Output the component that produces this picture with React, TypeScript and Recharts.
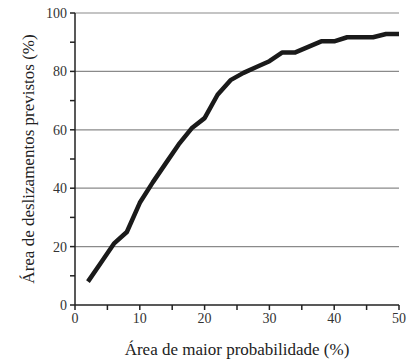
import { LineChart, Line, XAxis, YAxis, CartesianGrid } from 'recharts';

const areaMaior = [2, 4, 6, 8, 10, 12, 14, 16, 18, 20, 22, 24, 26, 28, 30, 32, 34, 36, 38, 40, 42, 44, 46, 48, 50];
const deslizamentos = [8, 14.5, 21, 25, 35, 42, 48.5, 55, 60.5, 64, 72, 77, 79.5, 81.5, 83.5, 86.5, 86.5, 88.4, 90.3, 90.3, 91.7, 91.7, 91.7, 92.8, 92.8];

const xTicks = [0, 5, 10, 15, 20, 25, 30, 35, 40, 45, 50];
const yTicks = [0, 10, 20, 30, 40, 50, 60, 70, 80, 90, 100];
const gridValues = [20, 40, 60, 80, 100];

const data = areaMaior.map((x, i) => ({ x, y: deslizamentos[i] }));

const font = '"Liberation Serif", "DejaVu Serif", serif';

export default function App() {
  return (
    <div style={{ position: 'absolute', left: 0, top: 0, width: 408, height: 360, background: '#fff', fontFamily: font }}>
      <LineChart width={408} height={360} data={data} margin={{ top: 13, right: 9, left: 0, bottom: 0 }} style={{ fontFamily: font }}>
        <CartesianGrid vertical={false} horizontalValues={gridValues} stroke="#8a8a8a" strokeWidth={1.2} />
        <XAxis
          dataKey="x"
          type="number"
          domain={[0, 50]}
          ticks={xTicks}
          tickFormatter={(v: number) => (v % 10 === 0 ? String(v) : '')}
          height={55}
          tickSize={5}
          tickMargin={3}
          stroke="#222"
          strokeWidth={1.5}
          tick={{ fill: '#333', fontSize: 14, fontFamily: font }}
          label={{ value: 'Área de maior probabilidade (%)', position: 'insideBottom', offset: 5, fill: '#222', fontSize: 17, fontFamily: font }}
        />
        <YAxis
          type="number"
          domain={[0, 100]}
          ticks={yTicks}
          tickFormatter={(v: number) => (v % 20 === 0 ? String(v) : '')}
          width={75}
          tickSize={5}
          tickMargin={3}
          stroke="#222"
          strokeWidth={1.5}
          tick={{ fill: '#333', fontSize: 14, fontFamily: font }}
          label={{ value: 'Área de deslizamentos previstos (%)', angle: -90, position: 'insideLeft', offset: 28, fill: '#222', fontSize: 17, fontFamily: font, style: { textAnchor: 'middle' } }}
        />
        <Line
          dataKey="y"
          stroke="#1a1a1a"
          strokeWidth={4.5}
          strokeLinejoin="round"
          dot={false}
          isAnimationActive={false}
        />
      </LineChart>
    </div>
  );
}
